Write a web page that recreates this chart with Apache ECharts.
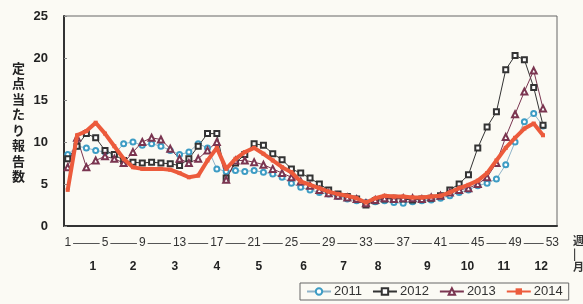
<!DOCTYPE html>
<html>
<head>
<meta charset="utf-8">
<script src="https://cdn.jsdelivr.net/npm/echarts@6/dist/echarts.min.js"></script>
<style>
  html, body { margin: 0; padding: 0; background: #fbfaf4; }
  #chart { width: 583px; height: 304px; }
</style>
</head>
<body>
<div id="chart"></div>
<script>
// week numbers 1..52 and the weekly values per year
const weeks = [1,2,3,4,5,6,7,8,9,10,11,12,13,14,15,16,17,18,19,20,21,22,23,24,25,26,
  27,28,29,30,31,32,33,34,35,36,37,38,39,40,41,42,43,44,45,46,47,48,49,50,51,52];

const y2011 = [8.5,9.5,9.3,9.0,8.8,8.5,9.8,10.0,9.6,9.8,9.5,9.0,8.5,8.8,9.8,9.3,6.8,6.5,6.6,6.5,
  6.6,6.4,6.2,5.8,5.1,4.6,4.3,4.0,3.8,3.5,3.2,3.0,2.8,2.9,3.0,2.8,2.7,2.9,3.0,3.1,
  3.3,3.6,4.0,4.3,4.8,5.1,5.6,7.3,10.0,12.4,13.4,11.9];
const y2012 = [8.0,9.5,11.0,10.5,9.0,8.5,7.8,7.6,7.5,7.6,7.5,7.4,7.2,8.0,9.5,11.0,11.0,5.7,7.5,8.5,
  9.8,9.6,8.6,7.9,6.8,6.3,5.7,5.0,4.3,3.8,3.5,3.2,2.5,3.0,3.2,3.3,3.2,3.1,3.2,3.3,
  3.6,4.3,5.0,6.1,9.3,11.8,13.6,18.6,20.3,19.8,16.5,12.0];
const y2013 = [7.0,10.5,7.0,7.8,8.3,8.0,7.5,8.8,10.0,10.5,10.3,9.2,8.0,7.5,8.0,9.0,10.0,5.5,7.8,7.8,
  7.6,7.3,6.8,6.3,5.8,5.3,4.8,4.3,3.9,3.6,3.4,3.2,2.7,3.1,3.3,3.2,3.3,3.3,3.2,3.4,
  3.6,4.0,4.3,4.5,5.0,5.8,7.5,10.6,13.3,16.0,18.5,14.0];
const y2014 = [4.3,10.8,11.3,12.3,11.0,9.5,8.0,7.0,6.8,6.8,6.8,6.7,6.3,5.8,6.0,7.8,9.3,6.8,8.0,8.8,
  9.3,8.6,7.8,7.0,6.4,5.3,4.9,4.5,4.1,3.8,3.6,3.3,2.8,3.3,3.6,3.5,3.5,3.4,3.4,3.5,
  3.6,4.0,4.5,4.9,5.4,6.3,7.8,9.3,10.5,11.6,12.2,10.8];

const weekTicks = [1,5,9,13,17,21,25,29,33,37,41,45,49,53];
const monthLabels = ['1','2','3','4','5','6','7','8','9','10','11','12'];
const monthWeeks = [3.7,8,12.5,17,21.5,26.3,30.6,34.3,39.6,43.9,47.8,51.8];
const yTicks = [0,5,10,15,20,25];

const pairs = arr => weeks.map((w, i) => [w, arr[i]]);

const bg = '#fbfaf4';
const numFont = '"Liberation Sans", Arial, sans-serif';

const chart = echarts.init(document.getElementById('chart'));
chart.setOption({
  backgroundColor: bg,
  animation: false,
  grid: {
    left: 64, right: 26, top: 16, bottom: 78,
    show: true, borderColor: '#666', borderWidth: 1
  },
  xAxis: [
    {
      type: 'value', min: 0.6, max: 53.5,
      axisLine: { show: true, onZero: false, lineStyle: { color: '#333', width: 2 } },
      axisTick: { show: false }, axisLabel: { show: false }, splitLine: { show: false }
    },
    {
      type: 'value', min: 0.6, max: 53.5, position: 'bottom', offset: 17,
      axisLine: { show: true, onZero: false, lineStyle: { color: '#555', width: 1 } },
      axisTick: { show: false }, splitLine: { show: false },
      axisLabel: {
        customValues: weekTicks, margin: 0, verticalAlign: 'middle',
        fontFamily: numFont, fontSize: 12, color: '#333',
        backgroundColor: bg, padding: [0, 2],
        showMinLabel: true, showMaxLabel: true
      }
    },
    {
      type: 'value', min: 0.6, max: 53.5, position: 'bottom', offset: 41,
      axisLine: { show: false }, axisTick: { show: false }, splitLine: { show: false },
      axisLabel: {
        customValues: monthWeeks, margin: 0, verticalAlign: 'middle',
        fontFamily: numFont, fontSize: 12, fontWeight: 'bold', color: '#222',
        formatter: v => monthLabels[monthWeeks.indexOf(v)]
      }
    }
  ],
  yAxis: {
    type: 'value', min: 0, max: 25, interval: 5,
    axisLine: { show: true, lineStyle: { color: '#333', width: 2 } },
    axisTick: { show: true, inside: true, length: 3, lineStyle: { color: '#888' } },
    splitLine: { show: false },
    axisLabel: {
      customValues: yTicks, margin: 16,
      fontFamily: numFont, fontSize: 13, fontWeight: 'bold', color: '#222'
    }
  },
  legend: {
    left: 300, top: 283, width: 400,
    padding: [2, 6], itemGap: 10, itemWidth: 24, itemHeight: 8,
    borderColor: '#666', borderWidth: 1,
    textStyle: { fontFamily: numFont, fontSize: 13, color: '#333', padding: [0, 0, 0, -2] },
    data: ['2011', '2012', '2013', '2014']
  },
  graphic: [
    {
      type: 'text', left: 12, top: 60,
      style: {
        text: '定\n点\n当\nた\nり\n報\n告\n数',
        font: 'bold 13px "Noto Sans CJK JP"', lineHeight: 15.5, fill: '#222'
      }
    },
    {
      type: 'text', left: 573, top: 234,
      style: {
        text: '週\n|\n月',
        font: 'bold 11px "Noto Sans CJK JP"', lineHeight: 13, fill: '#333'
      }
    }
  ],
  series: [
    {
      name: '2011', type: 'line', data: pairs(y2011),
      symbol: 'emptyCircle', symbolSize: 5,
      lineStyle: { color: '#8fb3c8', width: 1 },
      itemStyle: { color: '#3d9cc4', borderWidth: 1 }
    },
    {
      name: '2012', type: 'line', data: pairs(y2012),
      symbol: 'emptyRect', symbolSize: 5,
      lineStyle: { color: '#333', width: 1 },
      itemStyle: { color: '#333', borderWidth: 1 }
    },
    {
      name: '2013', type: 'line', data: pairs(y2013),
      symbol: 'emptyTriangle', symbolSize: 6,
      lineStyle: { color: '#7a3550', width: 1 },
      itemStyle: { color: '#7a3550', borderWidth: 1 }
    },
    {
      name: '2014', type: 'line', data: pairs(y2014),
      symbol: 'rect', symbolSize: 4,
      lineStyle: { color: '#ec5b3c', width: 4 },
      itemStyle: { color: '#ec5b3c' },
      z: 5
    }
  ]
});
window.addEventListener('resize', () => chart.resize());
</script>
</body>
</html>
